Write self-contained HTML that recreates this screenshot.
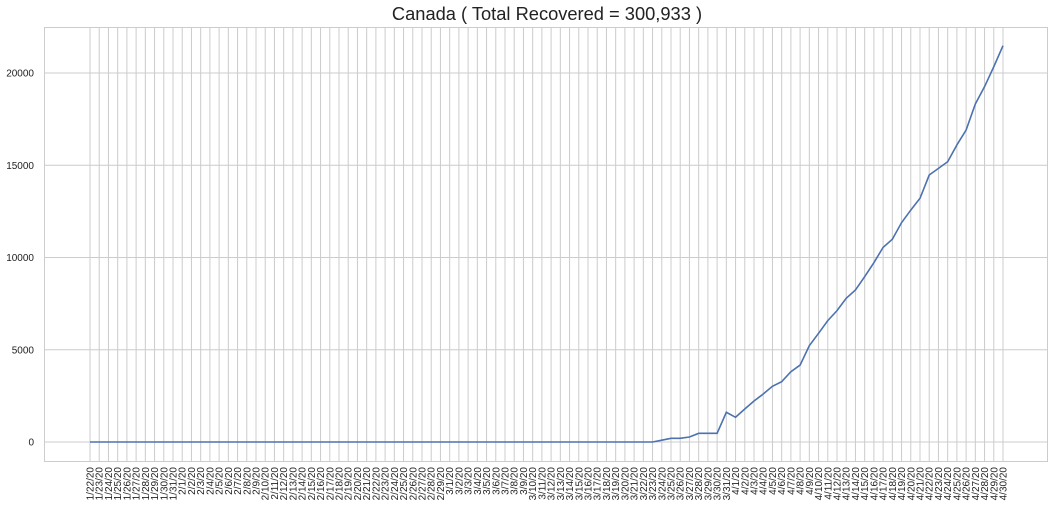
<!DOCTYPE html>
<html><head><meta charset="utf-8"><style>
body{margin:0;background:#fff;font-family:"Liberation Sans",Arial,sans-serif}
svg{display:block}
</style></head><body>
<svg width="1055" height="512" id="c">
<text x="547" y="20" text-anchor="middle" font-size="18.3" fill="#222">Canada ( Total Recovered = 300,933 )</text>
</svg>
<script>
const yTicks=[0,5000,10000,15000,20000];
const values=[0,0,0,0,0,0,0,0,0,0,0,0,0,0,0,0,0,0,0,0,0,0,0,0,0,0,0,0,0,0,0,0,0,0,0,0,0,0,0,0,0,0,0,0,0,0,0,0,0,0,0,0,0,0,0,0,0,0,0,0,0,
0,100,200,200,270,470,470,470,1610,1340,1790,2220,2600,3020,3270,3810,4170,5220,5890,6580,7120,7790,8240,8960,9720,10550,10990,11890,12570,13210,14470,14830,15190,16100,16910,18320,19260,20340,21480];
const categories=[];
(function(){const m=[31,29,31,30];let mo=1,d=22;for(let i=0;i<100;i++){categories.push(mo+'/'+d+'/20');d++;if(d>m[mo-1]){d=1;mo++;}}})();
const svg=document.getElementById('c');const NS='http://www.w3.org/2000/svg';
const L=44,R=1048,T=27,B=462,x0=90,x1=1003,y0=442,y20=73;
const X=i=>x0+(x1-x0)*i/(categories.length-1);
const Y=v=>y0-(y0-y20)*v/20000;
function mk(t,a){const e=document.createElementNS(NS,t);for(const k in a)e.setAttribute(k,a[k]);svg.appendChild(e);return e;}
categories.forEach((c,i)=>{const l=mk('line',{x1:X(i),x2:X(i),y1:T,y2:B,stroke:'#ccc','stroke-width':1});


const t=mk('text',{transform:`translate(${X(i)+3.5},${B+5}) rotate(-90)`,'text-anchor':'end','font-size':10,fill:'#222'});t.textContent=c;

});
yTicks.forEach(v=>{const l=mk('line',{x1:L,x2:R,y1:Y(v),y2:Y(v),stroke:'#ccc','stroke-width':1});


const t=mk('text',{x:34,y:Y(v)+3.5,'text-anchor':'end','font-size':10,fill:'#222'});t.textContent=v;

});
const f=mk('rect',{x:L+0.5,y:T+0.5,width:R-L-1,height:B-T-1,fill:'none',stroke:'#ccc'});


const p=mk('polyline',{points:values.map((v,i)=>X(i)+','+Y(v)).join(' '),fill:'none',stroke:'#4c72b0','stroke-width':1.6});


</script>
</body></html>
